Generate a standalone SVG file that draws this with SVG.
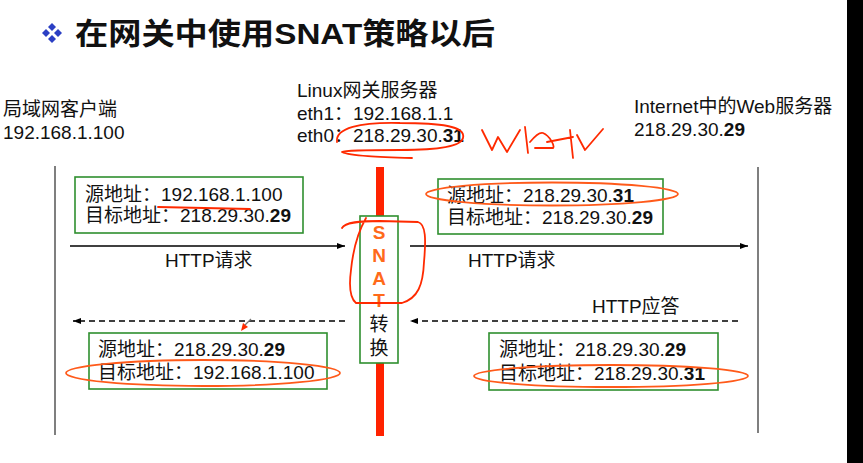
<svg xmlns="http://www.w3.org/2000/svg" width="863" height="463" viewBox="0 0 863 463">
<defs>
<style>
text{font-family:"Liberation Sans","Noto Sans CJK SC",sans-serif;fill:#111;}
.lbl{font-size:19px;}
.b{font-weight:bold;}
.box{fill:#fff;stroke:#2f8f2f;stroke-width:1.6;}
.vline{stroke:#555;stroke-width:1.5;}
.arrow{stroke:#000;stroke-width:1.5;fill:none;}
.dash{stroke-dasharray:6 4;}
.red{stroke:#ff2a00;fill:none;stroke-width:1.8;stroke-linecap:round;stroke-linejoin:round;}
.org{stroke:#ff5a1a;fill:none;stroke-width:1.8;}
.snat{font-size:19px;font-weight:bold;fill:#ff6a1a;text-anchor:middle;}
.dia{fill:#2b3fc4;}
</style>
<marker id="ah" viewBox="0 0 8 6" refX="8" refY="3" markerWidth="8" markerHeight="6" markerUnits="userSpaceOnUse" orient="auto"><path d="M0,0 L8,3 L0,6 Z" fill="#000"/></marker>
</defs>
<rect width="863" height="463" fill="#fff"/>
<rect x="847" y="0" width="16" height="463" fill="#000"/>

<g id="title">
<path class="dia" d="M52,23 L56,27 L52,31 L48,27 Z"/>
<path class="dia" d="M46,29 L50,33 L46,37 L42,33 Z"/>
<path class="dia" d="M58,29 L62,33 L58,37 L54,33 Z"/>
<path class="dia" d="M52,35 L56,39 L52,43 L48,39 Z"/>
<text x="75" y="44" font-size="30" font-weight="bold" textLength="420" lengthAdjust="spacingAndGlyphs">在网关中使用SNAT策略以后</text>
</g>

<g id="client">
<text class="lbl" x="3" y="116">局域网客户端</text>
<text class="lbl" x="3" y="139">192.168.1.100</text>
<line class="vline" x1="55" y1="166" x2="55" y2="435"/>
</g>

<g id="gateway">
<text class="lbl" x="297" y="97">Linux网关服务器</text>
<text class="lbl" x="297" y="120">eth1：192.168.1.1</text>
<text class="lbl" x="297" y="142">eth0：218.29.30.<tspan class="b">31</tspan></text>
<rect x="376" y="167" width="8" height="269" fill="#ff2200"/>
<rect class="box" x="360" y="216" width="38" height="147"/>
<text class="snat" x="379" y="239">S</text>
<text class="snat" x="379" y="262">N</text>
<text class="snat" x="379" y="285">A</text>
<text class="snat" x="379" y="307">T</text>
<text class="lbl" x="379" y="331" text-anchor="middle" font-size="18">转</text>
<text class="lbl" x="379" y="355" text-anchor="middle" font-size="18">换</text>
</g>

<g id="server">
<text class="lbl" x="634" y="113">Internet中的Web服务器</text>
<text class="lbl" x="634" y="136">218.29.30.<tspan class="b">29</tspan></text>
<line class="vline" x1="758" y1="167" x2="758" y2="433"/>
</g>

<g id="pkt-req-in">
<rect class="box" x="75" y="177" width="228" height="56"/>
<text class="lbl" x="85" y="201">源地址：192.168.1.100</text>
<text class="lbl" x="85" y="222">目标地址：218.29.30.<tspan class="b">29</tspan></text>
</g>

<g id="pkt-req-out">
<rect class="box" x="438" y="179" width="225" height="55"/>
<text class="lbl" x="447" y="202">源地址：218.29.30.<tspan class="b">31</tspan></text>
<text class="lbl" x="447" y="224">目标地址：218.29.30.<tspan class="b">29</tspan></text>
</g>

<g id="pkt-resp-out">
<rect class="box" x="89" y="333" width="238" height="56"/>
<text class="lbl" x="98" y="356">源地址：218.29.30.<tspan class="b">29</tspan></text>
<text class="lbl" x="98" y="379">目标地址：192.168.1.100</text>
</g>

<g id="pkt-resp-in">
<rect class="box" x="489" y="333" width="229" height="57"/>
<text class="lbl" x="499" y="356">源地址：218.29.30.<tspan class="b">29</tspan></text>
<text class="lbl" x="499" y="380">目标地址：218.29.30.<tspan class="b">31</tspan></text>
</g>

<g id="connectors">
<path class="arrow" d="M70,246 H345" marker-end="url(#ah)"/>
<path class="arrow" d="M410,246 H748" marker-end="url(#ah)"/>
<path class="arrow dash" d="M345,321 H73" marker-end="url(#ah)"/>
<path class="arrow dash" d="M738,321 H410" marker-end="url(#ah)"/>
<text class="lbl" x="165" y="267" font-size="18">HTTP请求</text>
<text class="lbl" x="468" y="267" font-size="18">HTTP请求</text>
<text class="lbl" x="592" y="313" font-size="18">HTTP应答</text>
</g>

<g id="annotations">
<path class="red" d="M337,142 C335,128 360,122 400,123 C440,123 466,126 463,138 C461,148 430,150 400,150 C370,150 345,150 342,152 C350,156 380,157 412,158"/>
<path class="red" d="M482,130 L492,150 L498,137 L507,152 L520,130 M525,127 L528,153 M530,142 C535,136 540,132 543,133 C550,136 555,146 553,148 L535,148 M547,142 L573,137 M570,130 L573,158 M577,135 L585,150 L603,129"/>
<path class="red" d="M158,207 L250,209"/>
<ellipse class="org" cx="552" cy="194" rx="126" ry="11.5"/>
<path class="red" d="M342,228 C345,222 360,221 380,221 L418,222 C426,224 426,240 424,262 C423,285 418,298 402,303 L356,303 C350,298 349,285 351,270 C353,250 358,232 366,218"/>
<ellipse class="org" cx="203" cy="373" rx="137" ry="13"/>
<ellipse class="org" cx="611" cy="376" rx="137" ry="11"/>
<path d="M241,331 L243,323 L248,327 Z" fill="#ff2a00"/>
<path d="M245,325 L251,319" stroke="#777" stroke-width="1.2"/>
</g>
</svg>
